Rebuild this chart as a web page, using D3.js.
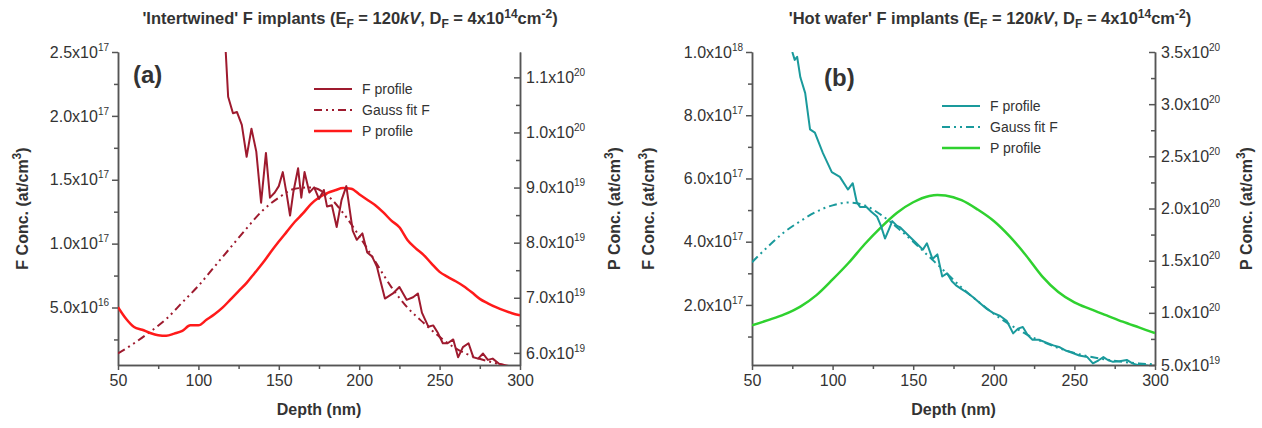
<!DOCTYPE html>
<html lang="en">
<head>
<meta charset="utf-8">
<title>F implants</title>
<script src="https://cdn.jsdelivr.net/npm/d3@7"></script>
<style>
body { margin: 0; background: #fff; }
text { font-family: "Liberation Sans", Arial, sans-serif; fill: #333; }
</style>
</head>
<body>
<script>
// ---- data (depth in nm, F in 1e17 at/cm3, P in 1e19 at/cm3) ----
var depthTicks = [50, 100, 150, 200, 250, 300];

var aLeftTicks = [5e16, 1e17, 1.5e17, 2e17, 2.5e17];
var aRightTicks = [6e19, 7e19, 8e19, 9e19, 1e20, 1.1e20];
var bLeftTicks = [2e17, 4e17, 6e17, 8e17, 1e18];
var bRightTicks = [5e19, 1e20, 1.5e20, 2e20, 2.5e20, 3e20, 3.5e20];

var legendNames = ["F profile", "Gauss fit F", "P profile"];

// panel (a)
var aFDepth = [117,118.5,121.5,124,127,130,133,136,139,142,144.5,147.5,150,152.5,155,157,159,162,164,166,169,172,175,178,180,183,186,189,192,196,198.5,202,205,208,211,213,216,221,225,229.5,233.5,236.5,239,243,246,249,252,255,258.5,261.5,264.5,268,271,274,277,280,283,287,290];
var aFConc  = [2.5,2.15,2.02,2.03,1.93,1.68,1.9,1.72,1.32,1.71,1.36,1.4,1.45,1.56,1.38,1.22,1.4,1.59,1.36,1.56,1.4,1.44,1.35,1.42,1.29,1.3,1.13,1.34,1.45,1.1,1.03,1.08,0.93,0.9,0.82,0.72,0.57,0.61,0.66,0.56,0.58,0.61,0.46,0.35,0.36,0.3,0.22,0.22,0.25,0.11,0.19,0.22,0.11,0.1,0.14,0.09,0.1,0.06,0.05];
var aGDepth = [50,60,70,80,90,100,110,120,130,140,150,160,170,180,190,200,210,220,230,240,250,260,270,280,290,300];
var aGConc  = [0.14,0.22,0.31,0.41,0.54,0.67,0.82,0.97,1.12,1.26,1.36,1.43,1.44,1.38,1.24,1.06,0.86,0.66,0.5,0.38,0.27,0.18,0.12,0.08,0.05,0.03];
var aPDepth = [50,55,60,65,70,75,80,85,90,95,100,105,110,115,120,125,130,135,140,145,150,155,160,165,170,175,180,185,190,195,200,205,210,215,220,225,230,235,240,245,250,255,260,265,270,275,280,285,290,295,300];
var aPConc  = [6.83,6.62,6.47,6.42,6.36,6.32,6.31,6.35,6.4,6.5,6.5,6.6,6.7,6.82,6.97,7.12,7.27,7.45,7.63,7.83,8.02,8.2,8.38,8.53,8.7,8.82,8.9,8.95,8.99,8.98,8.88,8.78,8.68,8.55,8.4,8.28,8.05,7.9,7.78,7.62,7.47,7.38,7.3,7.21,7.1,6.98,6.9,6.83,6.77,6.72,6.68];

// panel (b)
var bFDepth = [75,76.5,78,80,83,86,89,94,99.5,104.5,109.5,112.5,115,117,121,124,127.5,130,132.5,135,137,140,142,145,148,152,156,158.5,162,165,168,171,174,177,180,183,187,191.5,195,199.5,204,208,212,215,218,221,224,228,233,237,241,245,249,253,258,261.5,265,268,271,274,278,282.5,286,289,293,296];
var bFConc  = [10,9.75,9.85,9.2,8.7,7.55,7.45,6.8,6.2,6.05,5.65,5.85,5.25,5.1,5.1,4.95,4.8,4.5,4.1,4.4,4.65,4.5,4.45,4.3,4.15,3.95,3.75,3.95,3.45,3.6,2.9,3.0,2.75,2.6,2.5,2.4,2.25,2.05,1.9,1.75,1.65,1.5,1.1,1.25,1.3,1.05,0.9,0.9,0.8,0.72,0.66,0.55,0.48,0.4,0.35,0.15,0.25,0.35,0.25,0.2,0.22,0.26,0.15,0.1,0.1,0.08];
var bGDepth = [50,60,70,80,90,100,110,120,130,140,150,160,170,180,190,200,210,220,230,240,250,260,270,280,290,300];
var bGConc  = [3.35,3.85,4.3,4.65,4.95,5.15,5.24,5.15,4.85,4.45,4.0,3.52,3.04,2.55,2.12,1.72,1.38,1.08,0.84,0.64,0.48,0.36,0.27,0.2,0.15,0.12];
var bPDepth = [50,60,70,80,90,100,110,120,130,140,150,160,165,170,180,190,200,210,220,230,240,250,260,270,280,290,300];
var bPConc  = [8.8,9.3,9.85,10.6,11.7,13.2,14.8,16.6,18.2,19.6,20.6,21.2,21.3,21.25,20.8,19.9,18.8,17.3,15.5,13.5,12.0,11.0,10.35,9.75,9.15,8.6,8.05];

var W = 1262, H = 428;
var svg = d3.select("body").append("svg").attr("width", W).attr("height", H);

function sciLabel(sel, v) {
    var e = Math.floor(Math.log10(v) + 1e-9);
    var m = v / Math.pow(10, e);
    sel.text(null);
    sel.append("tspan").text(m.toFixed(1) + "x10");
    sel.append("tspan").attr("font-size", 10).attr("dy", -7).text(e);
}

function titleText(g, x, y, name) {
    var t = g.append("text").attr("x", x).attr("y", y).attr("text-anchor", "middle")
        .attr("font-family", "'Open Sans', sans-serif").attr("font-weight", "bold")
        .attr("font-size", 16.5).attr("fill", "#222");
    t.append("tspan").text(name + " F implants (E");
    t.append("tspan").attr("font-size", 12).attr("dy", 4).text("F");
    t.append("tspan").attr("dy", -4).text(" = 120");
    t.append("tspan").attr("font-style", "italic").text("kV");
    t.append("tspan").text(", D");
    t.append("tspan").attr("font-size", 12).attr("dy", 4).text("F");
    t.append("tspan").attr("dy", -4).text(" = 4x10");
    t.append("tspan").attr("font-size", 12).attr("dy", -6).text("14");
    t.append("tspan").attr("dy", 6).text("cm");
    t.append("tspan").attr("font-size", 12).attr("dy", -6).text("-2");
    t.append("tspan").attr("dy", 6).text(")");
}

function yTitle(g, x, y, label) {
    var t = g.append("text").attr("transform", "translate(" + x + "," + y + ") rotate(-90)")
        .attr("text-anchor", "middle").attr("font-weight", "bold").attr("font-size", 16).attr("fill", "#222");
    t.append("tspan").text(label + " Conc. (at/cm");
    t.append("tspan").attr("font-size", 12).attr("dy", -7).text("3");
    t.append("tspan").attr("dy", 7).text(")");
}

function drawPanel(p) {
    var g = svg.append("g");
    var x = d3.scaleLinear().domain([50, 300]).range([p.x0, p.x1]);
    var yL = d3.scaleLinear().domain(p.leftDomain).range([p.yBot, p.yTop]);
    var yR = d3.scaleLinear().domain(p.rightDomain).range([p.yBot, p.yTop]);

    var clipId = "clip" + p.id;
    svg.append("clipPath").attr("id", clipId).append("rect")
        .attr("x", p.x0).attr("y", p.yTop).attr("width", p.x1 - p.x0).attr("height", p.yBot - p.yTop);

    // axes
    var axColor = "#555";
    function styleAxis(a) {
        a.select(".domain").attr("stroke", axColor).attr("stroke-width", 1.5);
        a.selectAll(".tick line").attr("stroke", axColor).attr("stroke-width", 1.5);
        a.selectAll(".tick text").attr("fill", "#333").attr("font-size", 16)
            .attr("font-family", "'Liberation Sans', Arial, sans-serif");
    }

    var xMinor = d3.range(75, 300, 50);
    g.append("g").attr("transform", "translate(0," + p.yBot + ")")
        .call(d3.axisBottom(x).tickValues(xMinor).tickSize(4).tickFormat("").tickSizeOuter(0))
        .call(styleAxis);
    g.append("g").attr("transform", "translate(0," + p.yBot + ")")
        .call(d3.axisBottom(x).tickValues(depthTicks).tickSize(5).tickPadding(5).tickSizeOuter(0))
        .call(styleAxis);

    var lStep = p.leftTicks[1] - p.leftTicks[0];
    var lMinor = d3.range(p.leftTicks[0] - lStep / 2, p.leftDomain[1], lStep).filter(function(v) { return v > p.leftDomain[0]; });
    g.append("g").attr("transform", "translate(" + p.x0 + ",0)")
        .call(d3.axisLeft(yL).tickValues(lMinor).tickSize(4).tickFormat("").tickSizeOuter(0))
        .call(styleAxis);
    g.append("g").attr("transform", "translate(" + p.x0 + ",0)")
        .call(d3.axisLeft(yL).tickValues(p.leftTicks).tickSize(6).tickPadding(3).tickSizeOuter(0))
        .call(styleAxis)
        .selectAll(".tick text").each(function(v) { sciLabel(d3.select(this), v); });

    var rStep = p.rightTicks[1] - p.rightTicks[0];
    var rMinor = d3.range(p.rightTicks[0] - rStep / 2, p.rightDomain[1], rStep).filter(function(v) { return v > p.rightDomain[0]; });
    g.append("g").attr("transform", "translate(" + p.x1 + ",0)")
        .call(d3.axisRight(yR).tickValues(rMinor).tickSize(-4).tickFormat("").tickSizeOuter(0))
        .call(styleAxis);
    g.append("g").attr("transform", "translate(" + p.x1 + ",0)")
        .call(d3.axisRight(yR).tickValues(p.rightTicks).tickSize(-6).tickPadding(8).tickSizeOuter(0))
        .call(styleAxis)
        .selectAll(".tick text").attr("x", 6).each(function(v) { sciLabel(d3.select(this), v); });

    // series
    var plot = g.append("g").attr("clip-path", "url(#" + clipId + ")");
    function draw(depth, conc, scale, unit, color, width, dash, curve) {
        var line = d3.line()
            .x(function(d, i) { return x(depth[i]); })
            .y(function(d) { return scale(d * unit); })
            .curve(curve || d3.curveLinear);
        plot.append("path").datum(conc).attr("d", line).attr("fill", "none")
            .attr("stroke", color).attr("stroke-width", width)
            .attr("stroke-dasharray", dash || null).attr("stroke-linejoin", "round");
    }
    draw(p.gDepth, p.gConc, yL, 1e17, p.fColor, 2, "8,4,2,4,2,4", d3.curveMonotoneX);
    draw(p.pDepth, p.pConc, yR, 1e19, p.pColor, 2.5, null, d3.curveMonotoneX);
    draw(p.fDepth, p.fConc, yL, 1e17, p.fColor, 2);

    // panel label
    g.append("text").attr("x", p.labelX).attr("y", p.labelY).attr("font-weight", "bold")
        .attr("font-size", 24).attr("fill", "#111").text(p.label);

    // legend
    var leg = g.append("g").attr("transform", "translate(" + p.legX + "," + p.legY + ")");
    var legColors = [p.fColor, p.fColor, p.pColor];
    var legDash = [null, "8,4,2,4,2,4", null];
    var legWidth = [2, 2, 2.5];
    legendNames.forEach(function(name, i) {
        var yy = i * 21;
        leg.append("line").attr("x1", 0).attr("x2", 38).attr("y1", yy).attr("y2", yy)
            .attr("stroke", legColors[i]).attr("stroke-width", legWidth[i]).attr("stroke-dasharray", legDash[i]);
        leg.append("text").attr("x", 48).attr("y", yy + 5)
            .attr("font-family", "'Open Sans', sans-serif").attr("font-size", 14).attr("fill", "#333").text(name);
    });

    // titles
    titleText(g, p.titleX, 24, p.title);
    g.append("text").attr("x", (p.x0 + p.x1) / 2).attr("y", 415).attr("text-anchor", "middle")
        .attr("font-weight", "bold").attr("font-size", 16).attr("fill", "#222").text("Depth (nm)");
    yTitle(g, p.leftTitleX, (p.yTop + p.yBot) / 2, "F");
    yTitle(g, p.rightTitleX, (p.yTop + p.yBot) / 2, "P");
}

drawPanel({
    id: "a", x0: 118, x1: 520, yTop: 52, yBot: 365,
    leftDomain: [5e15, 2.5e17], rightDomain: [5.78e19, 1.146e20],
    leftTicks: aLeftTicks, rightTicks: aRightTicks,
    fDepth: aFDepth, fConc: aFConc, gDepth: aGDepth, gConc: aGConc, pDepth: aPDepth, pConc: aPConc,
    fColor: "#9e1a2e", pColor: "#ff1a1a",
    label: "(a)", labelX: 133, labelY: 83, legX: 314, legY: 89,
    title: "'Intertwined'", titleX: 350, leftTitleX: 28, rightTitleX: 620
});

drawPanel({
    id: "b", x0: 752, x1: 1155, yTop: 52, yBot: 365,
    leftDomain: [1e16, 1e18], rightDomain: [5e19, 3.5e20],
    leftTicks: bLeftTicks, rightTicks: bRightTicks,
    fDepth: bFDepth, fConc: bFConc, gDepth: bGDepth, gConc: bGConc, pDepth: bPDepth, pConc: bPConc,
    fColor: "#1a9a9c", pColor: "#2fd12f",
    label: "(b)", labelX: 824, labelY: 86, legX: 942, legY: 106,
    title: "'Hot wafer'", titleX: 990, leftTitleX: 654, rightTitleX: 1252
});
</script>
</body>
</html>
